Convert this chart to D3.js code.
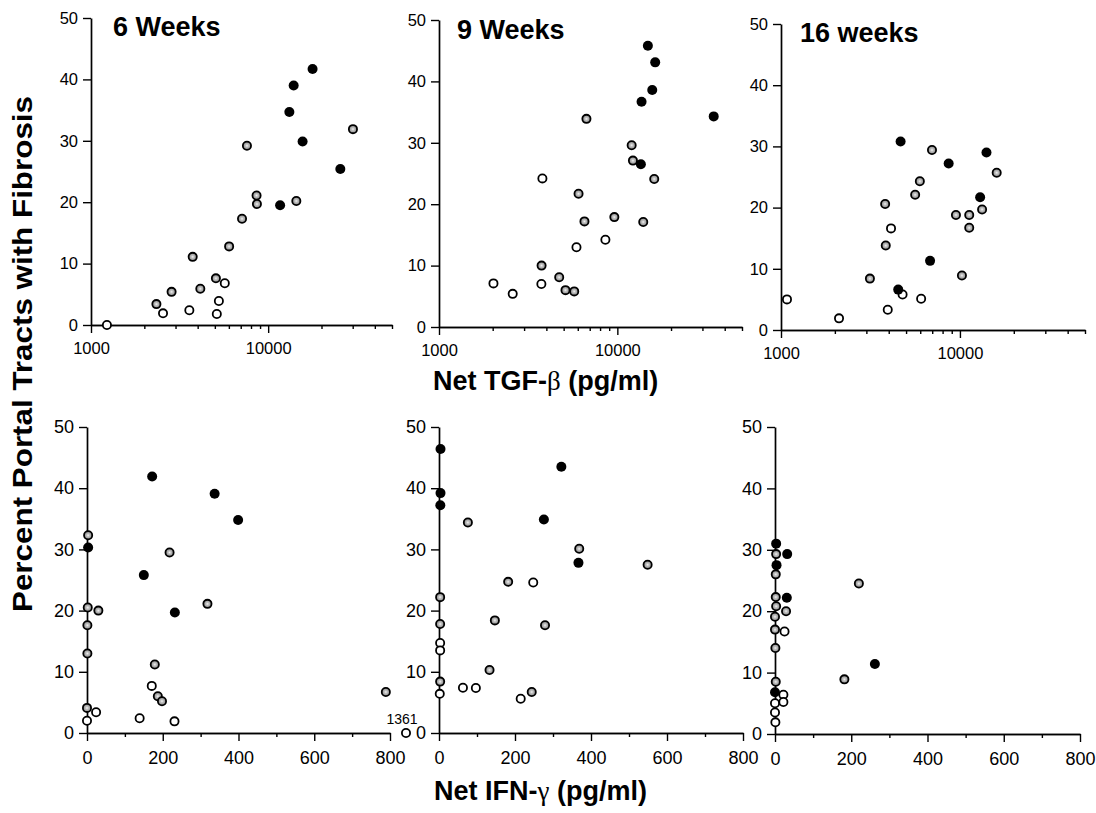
<!DOCTYPE html>
<html>
<head>
  <title>Fibrosis vs cytokines</title>
  <script src="https://d3js.org/d3.v7.min.js"></script>
  <style>
    body { margin: 0; background: #fff; }
    text { font-family: "Liberation Sans", Arial, sans-serif; fill: #000; }
  </style>
</head>
<body>
  <div id="chart"></div>

  <script>
    // [x, percent, group]  group: f = filled, o = open, g = grey
    const tgf6 = [
      [1230, 0, "o"], [2340, 3.4, "g"], [2550, 1.9, "o"], [2850, 5.4, "g"], [3590, 2.4, "o"],
      [3750, 11.1, "g"], [4140, 5.9, "g"], [5070, 7.6, "g"], [5130, 1.8, "o"], [5270, 3.9, "o"],
      [5690, 6.8, "o"], [6020, 12.8, "g"], [7120, 17.3, "g"], [7590, 29.2, "g"], [8600, 21.1, "g"],
      [8640, 19.7, "g"], [11680, 19.5, "f"], [13170, 34.7, "f"], [13930, 39.0, "f"], [14420, 20.2, "g"],
      [15640, 29.9, "f"], [17810, 41.7, "f"], [25550, 25.4, "f"], [30100, 31.9, "g"]
    ];
    const tgf9 = [
      [2020, 7.1, "o"], [2590, 5.4, "o"], [3800, 24.2, "o"], [3760, 10.0, "g"], [3750, 7.0, "o"],
      [4720, 8.1, "g"], [5120, 6.0, "g"], [5730, 5.8, "g"], [5900, 13.0, "o"], [6060, 21.7, "g"],
      [6540, 17.2, "g"], [6710, 33.9, "g"], [8570, 14.2, "o"], [9620, 17.9, "g"], [12030, 29.6, "g"],
      [12230, 27.1, "g"], [13550, 26.5, "f"], [13670, 36.7, "f"], [13970, 17.1, "g"], [14830, 45.8, "f"],
      [15690, 38.6, "f"], [16100, 24.1, "g"], [16300, 43.1, "f"], [34700, 34.3, "f"]
    ];
    const tgf16 = [
      [1080, 5.0, "o"], [2110, 1.9, "o"], [3140, 8.4, "g"], [3820, 20.6, "g"], [3850, 13.8, "g"],
      [3950, 3.3, "o"], [4120, 16.6, "o"], [4520, 6.6, "f"], [4660, 30.8, "f"], [4780, 5.8, "o"],
      [5620, 22.1, "g"], [5970, 24.3, "g"], [6070, 5.1, "o"], [6810, 11.3, "f"], [6980, 29.4, "g"],
      [8650, 27.2, "f"], [9500, 18.8, "g"], [10260, 8.9, "g"], [11270, 18.8, "g"], [11270, 16.7, "g"],
      [12970, 21.7, "f"], [13300, 19.7, "g"], [14070, 29.0, "f"], [16050, 25.7, "g"]
    ];
    const ifn6 = [
      [3, 32.3, "g"], [3, 30.3, "f"], [2, 20.5, "g"], [30, 20.0, "g"], [1, 17.6, "g"],
      [1, 13.0, "g"], [0, 4.1, "g"], [24, 3.4, "o"], [0, 2.0, "o"], [139, 2.4, "o"],
      [150, 25.8, "f"], [172, 41.9, "f"], [171, 7.7, "o"], [179, 11.2, "g"], [187, 6.0, "g"],
      [198, 5.2, "g"], [218, 29.5, "g"], [231, 1.9, "o"], [232, 19.7, "f"], [318, 21.1, "g"],
      [337, 39.1, "f"], [399, 34.8, "f"], [789, 6.7, "g"], [1361, 0, "o"]
    ];
    const ifn9 = [
      [4, 46.4, "f"], [4, 39.2, "f"], [3.5, 37.2, "f"], [3, 22.2, "g"], [3, 17.8, "g"],
      [3, 14.7, "o"], [3, 13.5, "o"], [3, 8.4, "g"], [2, 6.4, "o"], [63, 7.4, "o"],
      [76, 34.4, "g"], [97, 7.35, "o"], [133, 10.3, "g"], [147, 18.4, "g"], [182, 24.7, "g"],
      [215, 5.6, "o"], [244, 6.7, "g"], [248, 24.6, "o"], [276, 34.9, "f"], [279, 17.6, "g"],
      [322, 43.5, "f"], [367, 27.8, "f"], [369, 30.1, "g"], [549, 27.5, "g"]
    ];
    const ifn16 = [
      [3, 31.0, "f"], [3, 29.3, "g"], [4, 27.5, "f"], [2, 26.0, "g"], [2, 22.3, "g"],
      [3, 20.8, "g"], [0, 19.1, "g"], [0, 17.0, "g"], [1, 14.0, "g"], [2, 8.5, "g"],
      [0, 6.8, "f"], [0, 5.0, "o"], [0, 3.5, "o"], [1, 1.9, "o"], [32, 29.3, "f"],
      [31, 22.2, "f"], [29, 20.0, "g"], [25, 16.7, "o"], [22, 6.4, "o"], [22, 5.2, "o"],
      [182, 8.9, "g"], [220, 24.5, "g"], [262, 11.4, "f"]
    ];

    const titles = ["6 Weeks", "9 Weeks", "16 weeks"];
    const yTicks = [0, 10, 20, 30, 40, 50];
    const logMajor = [1000, 10000];
    const logMinor = [2000, 3000, 4000, 5000, 6000, 7000, 8000, 9000, 20000, 30000, 40000, 50000];
    const linMajor = [0, 200, 400, 600, 800];
    const linMinor = [100, 300, 500, 700];

    const width = 1096;
    const height = 813;
    const svg = d3.select("#chart")
      .append("svg")
      .attr("width", width)
      .attr("height", height);

    const defs = svg.append("defs");
    const grad = defs.append("radialGradient").attr("id", "grey");
    grad.append("stop").attr("offset", "0%").attr("stop-color", "#f4f4f4");
    grad.append("stop").attr("offset", "35%").attr("stop-color", "#c0c0c0");
    grad.append("stop").attr("offset", "100%").attr("stop-color", "#868686");

    // panel frames (pixel boxes)
    const panels = [
      { data: tgf6,  log: true,  x0: 91,  x1: 392,  top: 18,  bottom: 325, font: 16.5, title: titles[0], tx: 113, ty: 36 },
      { data: tgf9,  log: true,  x0: 439, x1: 742,  top: 20,  bottom: 327, font: 16.5, title: titles[1], tx: 457, ty: 39 },
      { data: tgf16, log: true,  x0: 781, x1: 1085, top: 24,  bottom: 330, font: 16.5, title: titles[2], tx: 800, ty: 42 },
      { data: ifn6,  log: false, x0: 87,  x1: 390,  top: 427, bottom: 733, font: 18 },
      { data: ifn9,  log: false, x0: 439, x1: 743,  top: 427, bottom: 733, font: 18 },
      { data: ifn16, log: false, x0: 775, x1: 1080, top: 427, bottom: 734, font: 18 }
    ];

    panels.forEach(p => {
      const g = svg.append("g");
      const y = d3.scaleLinear().domain([0, 50]).range([p.bottom, p.top]);
      let xAxisScale, xPoint;
      if (p.log) {
        xAxisScale = d3.scaleLog().domain([1000, 50000]).range([p.x0, p.x1]);
        xPoint = xAxisScale;
      } else {
        xAxisScale = d3.scaleLinear().domain([0, 800]).range([p.x0, p.x1]);
        // off-scale value (1361) drawn just past the axis end
        xPoint = d3.scaleLinear().domain([0, 800, 1361]).range([p.x0, p.x1, p.x1 + 16]);
      }

      const major = d3.axisBottom(xAxisScale)
        .tickValues(p.log ? logMajor : linMajor)
        .tickFormat(d3.format("d"))
        .tickSize(8).tickSizeOuter(0).tickPadding(p.log ? 9 : 10);
      const minor = d3.axisBottom(xAxisScale)
        .tickValues(p.log ? logMinor : linMinor)
        .tickFormat("")
        .tickSize(4).tickSizeOuter(0);

      g.append("g").attr("transform", `translate(0,${p.bottom})`).call(minor);
      const xa = g.append("g").attr("transform", `translate(0,${p.bottom})`).call(major);
      xa.selectAll("text").style("font-size", p.font + "px");

      const ya = g.append("g").attr("transform", `translate(${p.x0},0)`)
        .call(d3.axisLeft(y).tickValues(yTicks).tickSize(8).tickSizeOuter(0).tickPadding(5));
      ya.selectAll("text").style("font-size", p.font + "px");

      g.selectAll(".domain").attr("stroke", "#000").attr("stroke-width", 1.7);
      g.selectAll(".tick line").attr("stroke", "#000").attr("stroke-width", 1.4);

      const order = { o: 0, g: 1, f: 2 };
      const pts = p.data.slice().sort((a, b) => order[a[2]] - order[b[2]]);
      g.selectAll("circle.pt")
        .data(pts)
        .enter()
        .append("circle")
        .attr("class", "pt")
        .attr("cx", d => xPoint(d[0]))
        .attr("cy", d => y(d[1]))
        .attr("r", d => d[2] === "f" ? 5 : 4.1)
        .attr("fill", d => d[2] === "f" ? "#000" : d[2] === "g" ? "url(#grey)" : "#fff")
        .attr("stroke", d => d[2] === "f" ? "none" : "#000")
        .attr("stroke-width", 1.8);

      // label for off-scale point
      p.data.filter(d => d[0] > 800 && !p.log).forEach(d => {
        g.append("text")
          .attr("x", xPoint(d[0]) - 4)
          .attr("y", y(d[1]) - 9)
          .attr("text-anchor", "middle")
          .style("font-size", "14px")
          .text(d[0]);
      });

      if (p.title) {
        g.append("text")
          .attr("x", p.tx).attr("y", p.ty)
          .style("font-size", "27px").style("font-weight", "bold")
          .text(p.title);
      }
    });

    // axis titles
    svg.append("text")
      .attr("transform", "translate(32,354) rotate(-90)")
      .attr("text-anchor", "middle")
      .attr("textLength", 516)
      .attr("lengthAdjust", "spacingAndGlyphs")
      .style("font-size", "28px").style("font-weight", "bold")
      .text("Percent Portal Tracts with Fibrosis");

    const tgfLabel = svg.append("text")
      .attr("x", 433).attr("y", 390)
      .style("font-size", "27px").style("font-weight", "bold");
    tgfLabel.append("tspan").text("Net TGF-");
    tgfLabel.append("tspan").style("font-family", "'Liberation Serif', serif").style("font-weight", "normal").text("β");
    tgfLabel.append("tspan").text(" (pg/ml)");

    const ifnLabel = svg.append("text")
      .attr("x", 434).attr("y", 800)
      .style("font-size", "27px").style("font-weight", "bold");
    ifnLabel.append("tspan").text("Net IFN-");
    ifnLabel.append("tspan").style("font-family", "'Liberation Serif', serif").style("font-weight", "normal").text("γ");
    ifnLabel.append("tspan").text(" (pg/ml)");
  </script>
</body>
</html>
